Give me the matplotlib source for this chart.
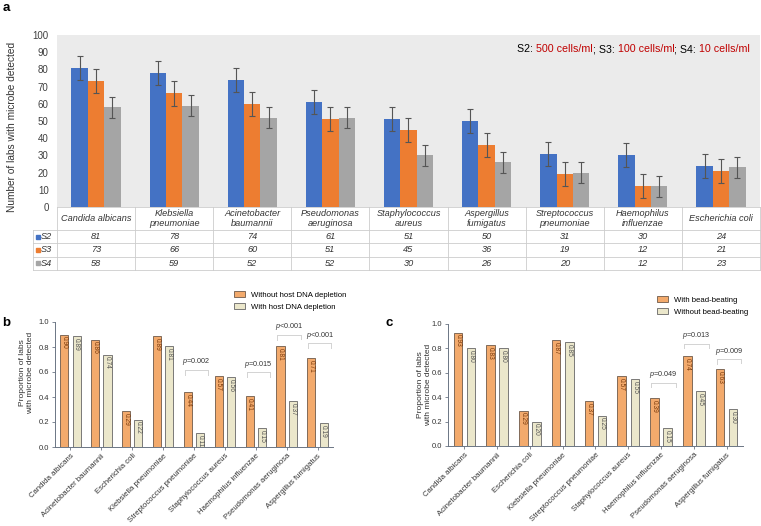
import numpy as np
import matplotlib
matplotlib.use("Agg")
from matplotlib import pyplot as plt
from matplotlib.patches import Patch
from matplotlib.offsetbox import TextArea, HPacker, AnchoredOffsetbox

plt.rcParams["font.family"] = ["Liberation Sans", "DejaVu Sans"]
plt.rcParams["mathtext.fontset"] = "custom"
plt.rcParams["mathtext.it"] = "Liberation Sans:italic"
plt.rcParams["mathtext.rm"] = "Liberation Sans"

# ---- panel a data ----
species_a = [
    "Candida albicans", "Klebsiella\npneumoniae", "Acinetobacter\nbaumannii",
    "Pseudomonas\naeruginosa", "Staphylococcus\naureus", "Aspergillus\nfumigatus",
    "Streptococcus\npneumoniae", "Haemophilus\ninfluenzae", "Escherichia coli",
]
series_names = ["S2", "S3", "S4"]
s2 = [81, 78, 74, 61, 51, 50, 31, 30, 24]
s3 = [73, 66, 60, 51, 45, 36, 19, 12, 21]
s4 = [58, 59, 52, 52, 30, 26, 20, 12, 23]
s2_err = [7, 7, 7, 7, 7, 7, 7, 7, 7]
s3_err = [7, 7, 7, 7, 7, 7, 7, 7, 7]
s4_err = [6, 6, 6, 6, 6, 6, 6, 6, 6]

# ---- panels b and c data ----
species_bc = [
    "Candida albicans", "Acinetobacter baumannii", "Escherichia coli",
    "Klebsiella pneumoniae", "Streptococcus pneumoniae", "Staphylococcus aureus",
    "Haemophilus influenzae", "Pseudomonas aeruginosa", "Aspergillus fumigatus",
]
b_without_depletion = [0.90, 0.86, 0.29, 0.89, 0.44, 0.57, 0.41, 0.81, 0.71]
b_with_depletion = [0.89, 0.74, 0.22, 0.81, 0.11, 0.56, 0.15, 0.37, 0.19]
b_p_index = [4, 6, 7, 8]
b_p_text = ["0.002", "0.015", "<0.001", "<0.001"]

c_with_beating = [0.93, 0.83, 0.29, 0.87, 0.37, 0.57, 0.39, 0.74, 0.63]
c_without_beating = [0.80, 0.80, 0.20, 0.85, 0.25, 0.55, 0.15, 0.45, 0.30]
c_p_index = [6, 7, 8]
c_p_text = ["0.049", "0.013", "0.009"]

W, H = 761, 526
BLUE, ORANGE, GRAY = "#4472c4", "#ed7d31", "#a5a5a5"
RED = "#c00000"
LIGHT_ORANGE, CREAM = "#f3aa6c", "#ebe7cb"
AXIS_COLOR = "#6b7584"
NBSP = "\u00a0"


def px_rect(x0, y0, x1, y1):
    return [x0 / W, 1 - y1 / H, (x1 - x0) / W, (y1 - y0) / H]


fig = plt.figure(figsize=(W / 100, H / 100), dpi=100)

# ================= panel a =================
ax_a = fig.add_axes(px_rect(57, 35, 760, 207))
ax_a.set_facecolor("#ebebeb")
x = np.arange(len(species_a))
bar_w = 0.21
for vals, errs, color, off in zip(
    [s2, s3, s4], [s2_err, s3_err, s4_err], [BLUE, ORANGE, GRAY], [-bar_w, 0, bar_w]
):
    ax_a.bar(x + off, vals, width=bar_w, color=color, zorder=2)
    ax_a.errorbar(x + off, vals, yerr=errs, fmt="none", ecolor="#555555",
                  elinewidth=0.8, capsize=2, capthick=0.8, zorder=3)
ax_a.set_xlim(-0.5, 8.5)
ax_a.set_ylim(0, 100)
ax_a.set_yticks(np.arange(0, 101, 10))
ax_a.set_xticks([])
ax_a.tick_params(axis="y", length=0, labelsize=7, pad=6, labelcolor="#404040")
for sp in ax_a.spines.values():
    sp.set_visible(False)
fig.text(12 / W, 1 - 127 / H, "Number of labs with microbe detected", rotation=90,
         ha="center", va="center", fontsize=7.3, color="#333333")

# colored concentration legend (non-breaking spaces keep the gaps)
parts = [("S2:" + NBSP, "black"), ("500 cells/ml", RED), (";" + NBSP + "S3:" + NBSP, "black"),
         ("100 cells/ml", RED), (";" + NBSP + "S4:" + NBSP, "black"), ("10 cells/ml", RED)]
boxes = [TextArea(t, textprops=dict(color=c, fontsize=7.7)) for t, c in parts]
anchored = AnchoredOffsetbox(loc="upper right", child=HPacker(children=boxes, sep=0, pad=0),
                             frameon=False, bbox_to_anchor=(750 / W, 1 - 44 / H),
                             bbox_transform=fig.transFigure, borderpad=0, pad=0)
fig.add_artist(anchored)

# data table under panel a
ax_t = fig.add_axes(px_rect(33, 207, 760, 270))
label_col = 24 / 78.1
ax_t.set_xlim(-0.5 - label_col, 8.5)
ax_t.set_ylim(63, 0)
ax_t.axis("off")
row_edges = [0, 23, 36.3, 49.6, 63]
line_kw = dict(color="#cccccc", lw=0.6, clip_on=False)
ax_t.plot([-0.5, 8.5], [0, 0], **line_kw)
for ye in row_edges[1:]:
    ax_t.plot([-0.5 - label_col, 8.5], [ye, ye], **line_kw)
for k in range(len(species_a) + 1):
    ax_t.plot([-0.5 + k, -0.5 + k], [0, 63], **line_kw)
ax_t.plot([-0.5 - label_col] * 2, [23, 63], **line_kw)
for i, name in enumerate(species_a):
    ax_t.text(i, 11.5, name, ha="center", va="center", fontsize=6.6,
              style="italic", linespacing=1.15, color="#333333")
for r, (vals, name, color) in enumerate(zip([s2, s3, s4], series_names, [BLUE, ORANGE, GRAY])):
    yc = (row_edges[r + 1] + row_edges[r + 2]) / 2
    ax_t.plot(-0.5 - label_col + 0.06, yc, marker="s", ms=3.3, color=color, clip_on=False)
    ax_t.text(-0.5 - label_col + 0.1, yc, name, ha="left", va="center",
              fontsize=6.6, style="italic", color="#333333")
    for i, v in enumerate(vals):
        ax_t.text(i, yc, str(v), ha="center", va="center", fontsize=6.6,
                  style="italic", color="#333333")


# ================= panels b and c =================
def draw_panel(rect, vals1, vals2, p_index, p_text, bracket_y, legend_labels, legend_xy):
    ax = fig.add_axes(rect)
    xi = np.arange(len(species_bc))
    w, off = 0.26, 0.2
    ax.bar(xi - off, vals1, width=w, color=LIGHT_ORANGE, edgecolor="#6e5a4a", lw=0.6, zorder=2)
    ax.bar(xi + off, vals2, width=w, color=CREAM, edgecolor="#666666", lw=0.6, zorder=2)
    for i in xi:
        ax.text(i - off, vals1[i] - 0.015, f"{vals1[i]:.2f}", rotation=270, ha="center",
                va="top", fontsize=4.8, color="#7a3a0c", zorder=3)
        ax.text(i + off, vals2[i] - 0.015, f"{vals2[i]:.2f}", rotation=270, ha="center",
                va="top", fontsize=4.8, color="#555555", zorder=3)
    for idx, txt, yb in zip(p_index, p_text, bracket_y):
        ax.plot([idx - 0.3, idx - 0.3, idx + 0.45, idx + 0.45], [yb - 0.04, yb, yb, yb - 0.04],
                ls=(0, (1.2, 1.2)), color="#9a9a9a", lw=0.6, clip_on=False)
        sign = "" if txt.startswith("<") else "="
        ax.text(idx + 0.07, yb + 0.02, f"$p${sign}{txt}", ha="center", va="bottom",
                fontsize=5.2, color="#333333", clip_on=False)
    ax.set_xlim(-0.5, 8.5)
    ax.set_ylim(0, 1.0)
    ax.set_yticks(np.arange(0, 1.01, 0.2))
    ax.set_yticklabels([f"{t:.1f}" for t in np.arange(0, 1.01, 0.2)])
    ax.set_xticks(xi)
    ax.set_xticklabels(species_bc, rotation=45, ha="right", rotation_mode="anchor")
    ax.tick_params(axis="both", length=2.5, width=0.6, color=AXIS_COLOR,
                   labelsize=5.5, labelcolor="#333333", pad=1.5)
    ax.tick_params(axis="x", labelsize=5.6, pad=1.5)
    for sp in ["top", "right"]:
        ax.spines[sp].set_visible(False)
    for sp in ["left", "bottom"]:
        ax.spines[sp].set_color(AXIS_COLOR)
        ax.spines[sp].set_linewidth(0.7)
    handles = [Patch(facecolor=LIGHT_ORANGE, edgecolor="#6e5a4a", lw=0.6),
               Patch(facecolor=CREAM, edgecolor="#666666", lw=0.6)]
    ax.legend(handles, legend_labels, loc="upper left", frameon=False,
              bbox_to_anchor=(legend_xy[0] / W, 1 - legend_xy[1] / H),
              bbox_transform=fig.transFigure, borderaxespad=0, borderpad=0,
              fontsize=5.6, handlelength=1.4, handleheight=0.8,
              handletextpad=0.8, labelspacing=0.55)
    return ax


draw_panel(px_rect(55, 322, 333, 447), b_without_depletion, b_with_depletion,
           b_p_index, b_p_text, [0.62, 0.60, 0.90, 0.83],
           ["Without host DNA depletion", "With host DNA depletion"], (234, 291))
fig.text(27 / W, 1 - 373 / H, "Proportion of labs\nwith microbe detected", rotation=90,
         ha="center", va="center", fontsize=6, color="#333333", linespacing=1.2)

draw_panel(px_rect(448, 324, 743, 446), c_with_beating, c_without_beating,
           c_p_index, c_p_text, [0.52, 0.84, 0.71],
           ["With bead-beating", "Without bead-beating"], (657, 296))
fig.text(425 / W, 1 - 385 / H, "Proportion of labs\nwith microbe detected", rotation=90,
         ha="center", va="center", fontsize=6, color="#333333", linespacing=1.2)

# panel letters
for letter, (px, py) in zip("abc", [(6, 8), (6, 323), (389, 323)]):
    fig.text(px / W, 1 - py / H, letter, ha="center", va="center",
             fontsize=9.5, fontweight="bold")

fig.savefig("out.png", dpi=100)
